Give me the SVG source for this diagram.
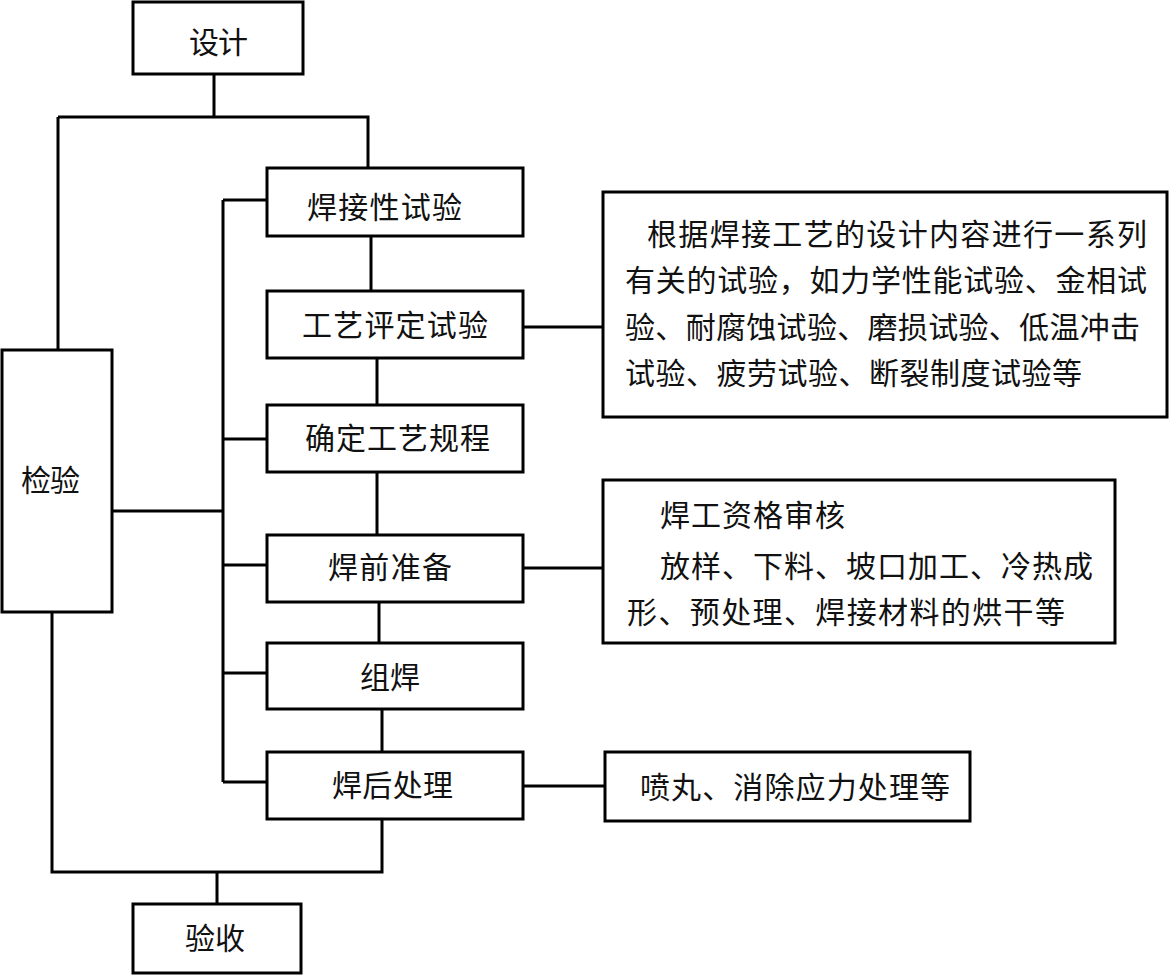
<svg xmlns="http://www.w3.org/2000/svg" width="1169" height="975" viewBox="0 0 1169 975">
<style>
.box{fill:#fff;stroke:#000;stroke-width:3}
.ln{fill:none;stroke:#000;stroke-width:3}
text{font-family:"Noto Sans CJK SC","Noto Sans CJK JP",sans-serif;font-size:30px;fill:#111}
</style>
<rect x="0" y="0" width="1169" height="975" fill="#fff"/>
<g id="connectors" class="ln">
<path d="M214,74V117M58,117H368V168M58,117V350"/>
<path d="M52,612V872H382V819M217,872V904"/>
<path d="M223,200V782M223,200H267M223,439H267M223,565H267M223,673H267M223,782H267M112,511H223"/>
<path d="M371,236V291M377,358V405M377,472V535M379,602V643M382,709V752"/>
<path d="M523,327H603M523,568H603M523,786H605"/>
</g>
<g id="n-sheji"><rect class="box" x="133" y="2" width="170" height="72"/><text x="189" y="53" textLength="59">设计</text></g>
<g id="n-hanjiexing"><rect class="box" x="267" y="168" width="256" height="68"/><text x="307" y="218" textLength="155">焊接性试验</text></g>
<g id="n-pingding"><rect class="box" x="267" y="291" width="256" height="67"/><text x="302" y="336" textLength="186">工艺评定试验</text></g>
<g id="n-guicheng"><rect class="box" x="267" y="405" width="256" height="67"/><text x="305" y="449" textLength="185">确定工艺规程</text></g>
<g id="n-hanqian"><rect class="box" x="267" y="535" width="256" height="67"/><text x="328" y="578" textLength="124">焊前准备</text></g>
<g id="n-zuhan"><rect class="box" x="267" y="643" width="256" height="66"/><text x="360" y="688" textLength="60">组焊</text></g>
<g id="n-hanhou"><rect class="box" x="267" y="752" width="256" height="67"/><text x="332" y="796" textLength="121">焊后处理</text></g>
<g id="n-jianyan"><rect class="box" x="2" y="350" width="110" height="262"/><text x="21" y="491" textLength="59">检验</text></g>
<g id="n-yanshou"><rect class="box" x="133" y="904" width="168" height="69"/><text x="185" y="949" textLength="60">验收</text></g>
<g id="n-note1"><rect class="box" x="603" y="192" width="564" height="225"/>
<text x="647" y="245" textLength="500">根据焊接工艺的设计内容进行一系列</text>
<text x="625" y="291" textLength="522">有关的试验，如力学性能试验、金相试</text>
<text x="625" y="338" textLength="515">验、耐腐蚀试验、磨损试验、低温冲击</text>
<text x="625" y="384" textLength="457">试验、疲劳试验、断裂制度试验等</text>
</g>
<g id="n-note2"><rect class="box" x="603" y="480" width="512" height="163"/>
<text x="660" y="526" textLength="185">焊工资格审核</text>
<text x="660" y="577" textLength="433">放样、下料、坡口加工、冷热成</text>
<text x="627" y="623" textLength="438">形、预处理、焊接材料的烘干等</text>
</g>
<g id="n-note3"><rect class="box" x="605" y="752" width="365" height="69"/>
<text x="640" y="798" textLength="310">喷丸、消除应力处理等</text>
</g>
</svg>
